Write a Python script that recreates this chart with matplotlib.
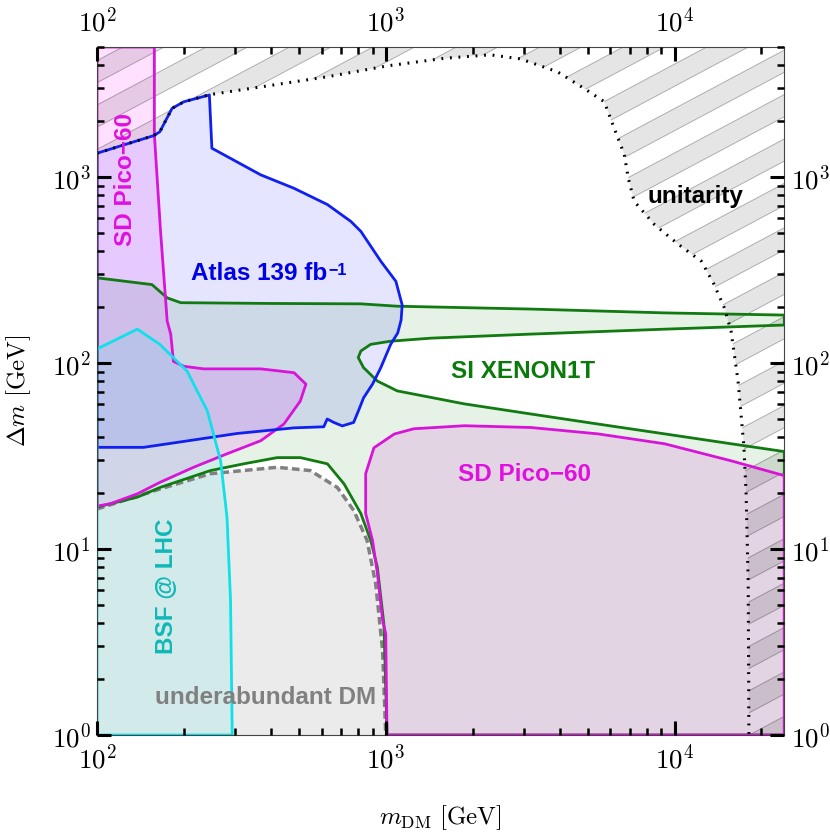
import numpy as np
import matplotlib
matplotlib.use("Agg")
import matplotlib.pyplot as plt
from matplotlib.patches import Polygon
from matplotlib.ticker import LogLocator, FuncFormatter, NullFormatter

plt.rcParams['mathtext.fontset'] = 'cm'

x_min, x_max = 100, 2.4e4
y_min, y_max = 1, 5000

# unitarity bound (dotted line, hatched above / right of it)
unit_x = [100, 157, 165, 182, 200, 245, 443, 628, 1014, 1600, 2300, 2920, 3930, 4870, 5710,
          6190, 6700, 6920, 7250, 8510, 10300, 12400, 13700, 14900, 15700, 16600, 17400,
          17700, 18000, 18100]
unit_y = [1342, 1668, 1750, 2340, 2540, 2770, 3185, 3460, 3960, 4350, 4540, 4320, 3680, 2990, 2540,
          1820, 1320, 982, 740, 556, 435, 352, 265, 197, 148, 80, 35,
          19.8, 6.5, 1]

# Atlas 139 fb^-1 exclusion
atlas_x = [100, 157, 165, 182, 200, 245, 250, 369, 480, 628, 757, 820, 962, 1084, 1140,
           1130, 1100, 1040, 960, 900, 838, 803, 774, 707, 661, 627, 610, 481, 306, 189, 145, 100]
atlas_y = [1342, 1668, 1750, 2340, 2540, 2760, 1428, 1027, 871, 711, 577, 510, 352, 275, 205,
           170, 145, 126, 94, 77, 65, 55, 47.9, 45.9, 47.9, 50, 45.4, 44.8, 41.8, 37.4, 35.2, 35.2]

# SD Pico-60, low mass strip
pico1_x = [100, 158, 158, 166, 175, 180, 184, 200, 234, 369, 481, 529, 506, 444, 369, 282,
           216, 165, 138, 111, 100]
pico1_y = [5000, 5000, 1690, 510, 168, 143, 102, 96, 93, 93, 88.7, 77, 62.5, 47, 38.2, 32.5,
           27.5, 22.8, 19.8, 17.5, 17]

# SD Pico-60, high mass region
pico2_x = [1010, 1000, 975, 935, 900, 852, 852, 910, 1070, 1250, 1870, 3180, 5420, 9230,
           15700, 24000, 24000]
pico2_y = [1, 3.5, 4.14, 7.4, 11.1, 15.5, 25.4, 35, 41.5, 44.3, 46, 45, 41.6, 36.8,
           29.8, 24.8, 1]

# SI XENON1T exclusion: upper edge, inner loop, lower-left edge
xe_up_x = [100, 155, 175, 195, 400, 820, 1096, 3180, 9230, 24000]
xe_up_y = [287, 264, 224, 211, 209, 208, 202, 195, 186, 181]
xe_in_x = [24000, 9230, 3180, 1432, 1040, 887, 820, 803, 838, 935, 1096, 1870, 3180, 5420,
           9230, 15700, 24000]
xe_in_y = [160, 152, 143, 136, 131, 126, 116, 107, 94.4, 80, 70.8, 60.3, 53.2, 47,
           41.6, 36.8, 33.4]
xe_lo_x = [24000, 1010, 985, 935, 887, 820, 717, 628, 506, 421, 322, 247, 165, 138, 100]
xe_lo_y = [1, 1, 3.97, 8, 11.1, 15.5, 22.4, 28.7, 31, 31, 28.7, 26.4, 21.4, 19, 16.8]

# BSF @ LHC
bsf_x = [100, 100, 138, 165, 205, 241, 268, 282, 290, 294]
bsf_y = [1, 119, 152, 126, 90.6, 55.3, 29.8, 14.8, 5.3, 1]

# underabundant DM boundary
under_x = [100, 165, 247, 421, 548, 680, 775, 862, 923, 975, 1000]
under_y = [16.4, 21, 25.4, 27.5, 26.4, 21.4, 16.1, 11.1, 6.5, 2.86, 1]

rect = [97 / 830, 100 / 835, 687.3 / 830, 688 / 835]
fig = plt.figure(figsize=(8.3, 8.35), dpi=100)
ax = fig.add_axes(rect)
ax.set_xscale('log')
ax.set_yscale('log')
ax.set_xlim(x_min, x_max)
ax.set_ylim(y_min, y_max)
ax.set_axisbelow(False)


def region(xs, ys, face, edge, lw=2.0):
    ax.fill(xs, ys, facecolor=face, edgecolor='none', zorder=1)
    ax.plot(list(xs) + [xs[0]], list(ys) + [ys[0]], color=edge, lw=lw, zorder=2.2)


# underabundant
ax.fill([100] + under_x, [1] + under_y, facecolor='#ebebeb', edgecolor='none', zorder=0.5)
ax.plot(under_x, under_y, color='#808080', lw=2.5, ls=(0, (2.2, 1.2)), zorder=2.1)

xe_x = xe_up_x + xe_in_x + xe_lo_x
xe_y = xe_up_y + xe_in_y + xe_lo_y
region(xe_x, xe_y, (0, 0.5, 0, 0.1), '#117a11')
region(pico2_x, pico2_y, (0.85, 0, 0.85, 0.12), '#d814d8')
region(pico1_x, pico1_y, (1, 0, 1, 0.12), '#d814d8')
region(atlas_x, atlas_y, (0, 0, 1, 0.1), '#1020f0')
region(bsf_x, bsf_y, (0, 0.9, 0.9, 0.1), '#10e0e8')

# hatched unitarity region
unit_patch = Polygon(np.column_stack([unit_x + [x_max, x_max, x_min], unit_y + [y_min, y_max, y_max]]),
                     closed=True, facecolor='none', edgecolor='none', transform=ax.transData)
ax.add_patch(unit_patch)
th = np.deg2rad(28)
d = np.array([np.cos(th), np.sin(th)])
n = np.array([-np.sin(th), np.cos(th)])
period = 0.057
for c in np.arange(-1.5, 1.6, period):
    pts = [-2 * d + c * n, 3 * d + c * n, 3 * d + (c + period / 2) * n, -2 * d + (c + period / 2) * n]
    st = Polygon(pts, closed=True, transform=ax.transAxes, facecolor=(0, 0, 0, 0.1),
                 edgecolor=(0, 0, 0, 0.28), lw=0.7, zorder=1.5)
    ax.add_patch(st)
    st.set_clip_path(unit_patch)
ax.plot(unit_x, unit_y, color='black', lw=2.2, ls=(0, (0.6, 2.2)), zorder=2.3)

# labels
lab = dict(family='Liberation Sans', weight='bold', fontsize=17.5, transform=ax.transAxes, zorder=6)
ax.text(0.335, 0.661, 'Atlas 139 fb', color='#0000e6', ha='right', va='baseline', **lab)
ax.text(0.336, 0.6686, '\u22121', color='#0000e6', ha='left', va='baseline',
        family='Liberation Sans', weight='bold', fontsize=11.5, transform=ax.transAxes, zorder=6)
ax.text(0.041, 0.807, 'SD Pico\u221260', color='#e010e0', ha='center', va='center', rotation=90, **lab)
ax.text(0.620, 0.528, 'SI XENON1T', color='#0a7a0a', ha='center', va='center', **lab)
ax.text(0.622, 0.378, 'SD Pico\u221260', color='#e010e0', ha='center', va='center', **lab)
ax.text(0.101, 0.2166, 'BSF @ LHC', color='#10b8b8', ha='center', va='center', rotation=90, **lab)
ax.text(0.245, 0.055, 'underabundant DM', color='#808080', ha='center', va='center', **lab)
ax.text(0.871, 0.782, 'unitarity', color='black', ha='center', va='center', **lab)

fmt = FuncFormatter(lambda v, _: r'$10^{%d}$' % round(np.log10(v)))
for axis in [ax.xaxis, ax.yaxis]:
    axis.set_major_locator(LogLocator(base=10, numticks=20))
    axis.set_minor_locator(LogLocator(base=10, subs=np.arange(2, 10), numticks=20))
    axis.set_major_formatter(fmt)
    axis.set_minor_formatter(NullFormatter())

# tick marks on all four sides, pointing in; labels on all four sides
ax.tick_params(which='both', direction='in', color='black', bottom=True, left=True, top=True, right=True,
               labelbottom=True, labelleft=True, labeltop=True, labelright=True, labelsize=19.5)
ax.tick_params(which='major', length=10, width=2.2)
ax.tick_params(which='minor', length=5, width=1.8)
ax.tick_params(axis='x', which='major', pad=7)
ax.tick_params(axis='y', which='major', pad=4.5)

for s in ax.spines.values():
    s.set_linewidth(0.8)
    s.set_color('#444444')

ax.set_xlabel(r'$m_{\rm DM}\ [{\rm GeV}]$', fontsize=18)
ax.set_ylabel(r'$\Delta m\ [{\rm GeV}]$', fontsize=18)
ax.xaxis.set_label_coords(0.5, -0.099)
ax.yaxis.set_label_coords(-0.0927, 0.5)

fig.savefig('out.png', dpi=100)
